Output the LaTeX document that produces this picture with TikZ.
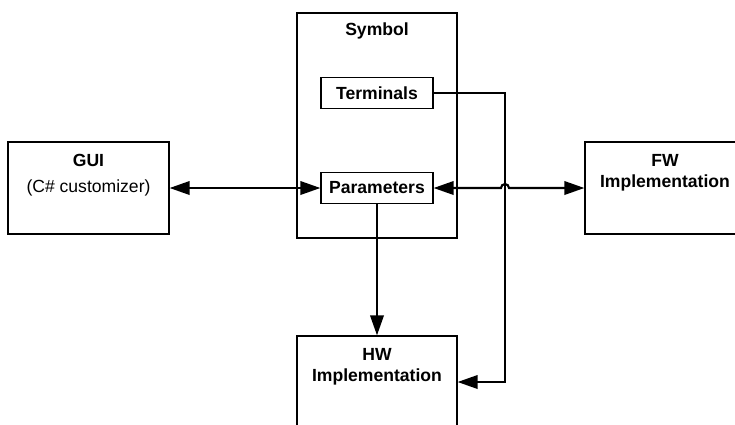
\documentclass[tikz,border=0pt]{standalone}
\usepackage{fontspec}
\setmainfont{Liberation Sans}
\usetikzlibrary{arrows.meta}

\begin{document}
\begin{tikzpicture}[x=0.02cm,y=0.02cm,
    >={Triangle[length=0.4cm,width=0.27cm]},
    boxtitle/.style={anchor=north,yshift=-4pt,align=center,font=\bfseries}]

      \useasboundingbox (0,0) rectangle (735,-424);

      % big boxes
      \begin{scope}[every node/.style={draw,line width=0.75pt,minimum width=3.2cm,minimum height=1.84cm}]
        \node[minimum width=3.22cm] (gui) at (88.5,-188) {(C\# customizer)};
        \node[minimum height=4.5cm] (symbol) at (377,-125.5) {};
        \node (fw) at (665,-188) {};
        \node (hw) at (377,-382) {};
      \end{scope}

      \node[boxtitle] at (gui.north) {GUI};
      \node[boxtitle,yshift=1.5pt] at (symbol.north) {Symbol};
      \node[boxtitle] at (fw.north) {FW\\Implementation};
      \node[boxtitle] at (hw.north) {HW\\Implementation};

      % inner boxes
      \begin{scope}[every node/.style={draw,line width=0.75pt,minimum width=2.24cm,minimum height=0.61cm,font=\bfseries}]
        \node (term)   at (377,-93)  {Terminals};
        \node (params) at (377,-188) {Parameters};
      \end{scope}

      \coordinate (hop)  at (505,-188);
      \coordinate (bend) at (505,-382);

      \begin{scope}[line width=1.2pt]
        \draw[<->] (gui.east) -- (params.west);
        \draw[<->] (params.east) -- ([xshift=-0.08cm]hop) arc[start angle=180,end angle=0,radius=0.08cm] -- (fw.west);
        \draw[->] (term.east) -| (bend) -- (hw.east);
        \draw[->] (params.south) -- (hw.north);
      \end{scope}

    \end{tikzpicture}
\end{document}
